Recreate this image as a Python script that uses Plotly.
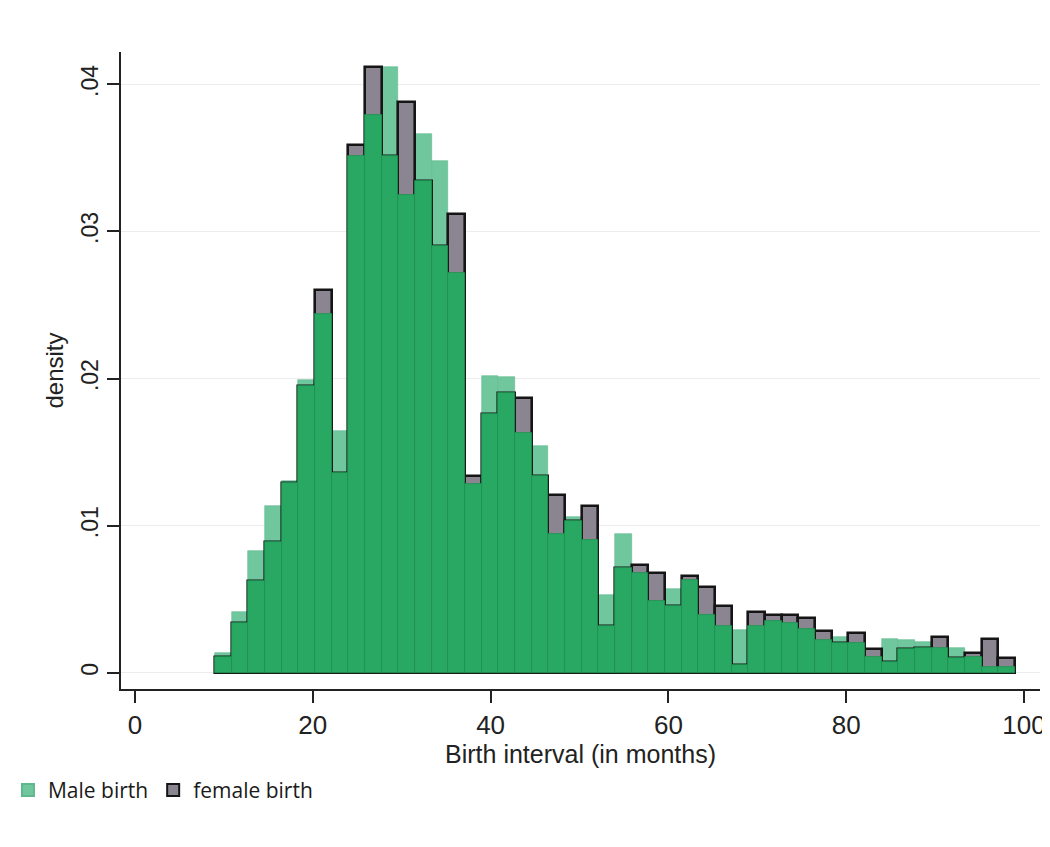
import plotly.graph_objects as go

# Histogram bins (months)
BIN_START = 9.0
BIN_WIDTH = 1.875
N_BINS = 48

# Density per bin
male_density = [
    0.00136, 0.0041, 0.0083, 0.0113, 0.0130, 0.0199, 0.0244, 0.0164,
    0.0351, 0.0379, 0.0412, 0.0325, 0.0366, 0.0348, 0.0272, 0.0128,
    0.0202, 0.0201, 0.0163, 0.0154, 0.0094, 0.0106, 0.0090, 0.0053,
    0.0094, 0.0068, 0.0049, 0.0057, 0.0063, 0.0039, 0.0032, 0.0029,
    0.0032, 0.0035, 0.0034, 0.0030, 0.0022, 0.0024, 0.0020, 0.0011,
    0.0023, 0.0022, 0.0021, 0.00166, 0.0017, 0.0011, 0.0004, 0.0004,
]
female_density = [
    0.00109, 0.0034, 0.0062, 0.0089, 0.0129, 0.0195, 0.0260, 0.0136,
    0.0359, 0.0412, 0.0351, 0.0388, 0.0334, 0.0290, 0.0312, 0.0134,
    0.0176, 0.0190, 0.0187, 0.0134, 0.0121, 0.0103, 0.0113, 0.0032,
    0.0071, 0.0073, 0.0068, 0.0045, 0.0066, 0.0058, 0.0045, 0.0005,
    0.0041, 0.0039, 0.0039, 0.0037, 0.00286, 0.0020, 0.00268, 0.0016,
    0.0007, 0.0016, 0.0017, 0.00245, 0.0010, 0.00136, 0.00229, 0.00098,
]

x_ticks = [0, 20, 40, 60, 80, 100]
y_ticks = [0, 0.01, 0.02, 0.03, 0.04]
y_tick_labels = ["0", ".01", ".02", ".03", ".04"]

centers = [BIN_START + BIN_WIDTH * (i + 0.5) for i in range(N_BINS)]
overlap = [min(m, f) for m, f in zip(male_density, female_density)]

LIGHT_GREEN = "#70c79e"
DARK_GREEN = "#29a864"
GREY = "#8a8590"

fig = go.Figure()
fig.add_trace(go.Bar(
    x=centers, y=male_density, width=BIN_WIDTH, name="Male birth",
    marker=dict(color=LIGHT_GREEN, line=dict(color="#5fb88c", width=0.6)),
))
fig.add_trace(go.Bar(
    x=centers, y=female_density, width=BIN_WIDTH, name="female birth",
    marker=dict(color=GREY, line=dict(color="#151515", width=2.6)),
))
fig.add_trace(go.Bar(
    x=centers, y=overlap, width=BIN_WIDTH, name="overlap", showlegend=False,
    marker=dict(color=DARK_GREEN, line=dict(color="#1f9350", width=0.8)),
))

fig.update_layout(
    width=1042, height=839,
    barmode="overlay", bargap=0,
    plot_bgcolor="white", paper_bgcolor="white",
    margin=dict(l=113, r=10, t=44, b=158, autoexpand=False),
    font=dict(family="Liberation Sans, Arial, sans-serif", color="#222222", size=24),
    showlegend=True,
    legend=dict(
        orientation="h", x=-0.123, y=-0.159, xanchor="left", yanchor="middle",
        font=dict(family="Open Sans, sans-serif", size=21, color="#1a1a1a"),
        itemsizing="constant", traceorder="normal", itemwidth=30,
    ),
)
fig.update_xaxes(
    range=[-1.575, 101.8], automargin=False,
    tickvals=x_ticks, ticks="outside", ticklen=12, tickwidth=2, tickcolor="#222222",
    showline=True, linecolor="#222222", linewidth=2,
    showgrid=False, zeroline=False,
    title=dict(text="Birth interval (in months)", standoff=2, font=dict(size=25)),
    tickfont=dict(size=26),
)
fig.update_yaxes(
    range=[-0.00111, 0.0422], automargin=False,
    tickvals=y_ticks, ticktext=y_tick_labels, tickangle=-90,
    ticks="outside", ticklen=12, tickwidth=2, tickcolor="#222222",
    showline=True, linecolor="#222222", linewidth=2,
    showgrid=True, gridcolor="#ececec", gridwidth=1, zeroline=False,
    title=dict(text="density", standoff=6, font=dict(size=24)),
    tickfont=dict(size=23),
)

fig.write_html("out.html")
